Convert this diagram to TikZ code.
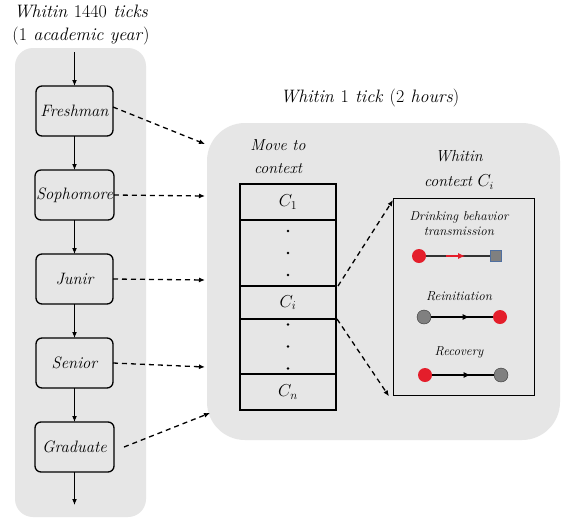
\documentclass[tikz,border=0pt]{standalone}
\usepackage{tikz}
\usetikzlibrary{arrows.meta, positioning, calc}
\definecolor{panelgray}{HTML}{E6E6E6}
\definecolor{dotred}{HTML}{E41E2B}
\definecolor{dotgray}{HTML}{808080}
\definecolor{sqblue}{HTML}{4F6F9F}
\tikzstyle{year} = [rectangle, draw, line width=1.3pt, rounded corners=6pt, minimum width=77pt, minimum height=50pt, fill=panelgray, inner sep=1pt, outer sep=0pt, font=\fontsize{16.5}{18}\selectfont\itshape]
\tikzstyle{cell} = [rectangle, draw, line width=1.3pt, minimum width=96pt, inner sep=0pt, outer sep=0pt, font=\fontsize{17}{18}\selectfont]
\tikzstyle{label} = [align=center, font=\fontsize{18}{23}\selectfont\itshape]
\tikzstyle{small} = [align=center, font=\fontsize{13}{15}\selectfont\itshape]
\tikzstyle{reddot} = [circle, fill=dotred, minimum size=14pt, inner sep=0pt]
\tikzstyle{graydot} = [circle, draw=black!80, fill=dotgray, minimum size=14pt, inner sep=0pt]
\tikzstyle{arrow} = [-{Latex[length=6pt,width=5pt]}, line width=1.3pt]
\tikzstyle{link} = [-{Latex[length=6pt,width=5pt]}, line width=1.3pt, dash pattern=on 5pt off 4pt]
\tikzstyle{mid} = [-{Latex[length=7pt,width=6pt]}, line width=1.3pt]

\begin{document}
\begin{tikzpicture}[x=1pt, y=-1pt, node distance=34pt]

\useasboundingbox[fill=white] (0,0) rectangle (581,531);

% Panels
\fill[panelgray, rounded corners=18pt] (15,48) rectangle (146,517);
\fill[panelgray, rounded corners=38pt] (207,123) rectangle (560,440);

% Titles
\node[label] (yeartitle) at (81,25) {Whitin \textup{1440} ticks\\\textup{(1} academic year\textup{)}};
\node[label] (ticktitle) at (370,98) {Whitin \textup{1} tick \textup{(2} hours\textup{)}};
\node[label, font=\fontsize{16}{23}\selectfont\itshape] (movetitle) at (278,157) {Move to\\context};
\node[label, font=\fontsize{16}{25}\selectfont\itshape] (ctxtitle) at (459,170) {Whitin\\context $C_i$};

% Years, top to bottom
\node[year] (fresh) at (74.5,111) {Freshman};
\node[year, below=of fresh] (soph) {Sophomore};
\node[year, below=of soph] (junir) {Junir};
\node[year, below=of junir] (senior) {Senior};
\node[year, below=of senior, minimum width=79pt] (grad) {Graduate};
\coordinate (yearin) at (74.5,52);
\coordinate (yearout) at (74.5,505);

\draw[arrow] (yearin) -- (fresh);
\draw[arrow] (fresh) -- (soph);
\draw[arrow] (soph) -- (junir);
\draw[arrow] (junir) -- (senior);
\draw[arrow] (senior) -- (grad);
\draw[arrow] (grad) -- (yearout);

% Context stack
\node[cell, minimum height=36pt, anchor=north] (c1) at (288,184) {$C_1$};
\node[cell, minimum height=66pt, below=0pt of c1] (dots1) {};
\node[cell, minimum height=33pt, below=0pt of dots1] (ci) {$C_i$};
\node[cell, minimum height=55pt, below=0pt of ci] (dots2) {};
\node[cell, minimum height=36pt, below=0pt of dots2] (cn) {$C_n$};
\foreach \d in {-22,0,22} {
  \fill ([yshift=\d pt]dots1.center) circle (1.4pt);
  \fill ([yshift=\d pt]dots2.center) circle (1.4pt);
}

% Within context box
\node[draw, line width=1.3pt, minimum width=141pt, minimum height=197pt, anchor=north west] (inner) at (393,198) {};

\node[small] (transtext) at (459,224) {Drinking behavior\\transmission};
\node[reddot] (t1) at (419,256) {};
\node[rectangle, draw=sqblue, fill=dotgray, minimum size=11pt, inner sep=0pt] (t2) at (496,256) {};
\draw[line width=1.3pt, black!80] (t1) -- (t2);
\draw[mid, dotred] ($(t1)!0.35!(t2)$) -- ($(t1)!0.6!(t2)$);

\node[small] (reinittext) at (459,296) {Reinitiation};
\node[graydot] (r1) at (424,317) {};
\node[reddot] (r2) at (500,317) {};
\draw[line width=1.3pt] (r1) -- (r2);
\draw[mid] (r1) -- ($(r1)!0.6!(r2)$);

\node[small] (recovtext) at (459,352) {Recovery};
\node[reddot] (v1) at (425,375) {};
\node[graydot] (v2) at (501,375) {};
\draw[line width=1.3pt] (v1) -- (v2);
\draw[mid] (v1) -- ($(v1)!0.6!(v2)$);

% Dashed links into the tick panel
\coordinate (p1) at (205,144);
\coordinate (p2) at (205,196);
\coordinate (p3) at (205,280);
\coordinate (p4) at (205,367);
\coordinate (p5) at (210,413);
\draw[link] ([yshift=4pt]fresh.east) -- (p1);
\draw[link] (soph.east) -- (p2);
\draw[link] (junir.east) -- (p3);
\draw[link] (senior.east) -- (p4);
\draw[link] ([xshift=10pt]grad.east) -- (p5);

% Dashed links into the context box
\draw[link] ([xshift=2pt]ci.north east) -- ([yshift=-2pt]inner.north west);
\draw[link] ([xshift=1pt]ci.south east) -- ([xshift=-4pt]inner.south west);

\end{tikzpicture}
\end{document}
